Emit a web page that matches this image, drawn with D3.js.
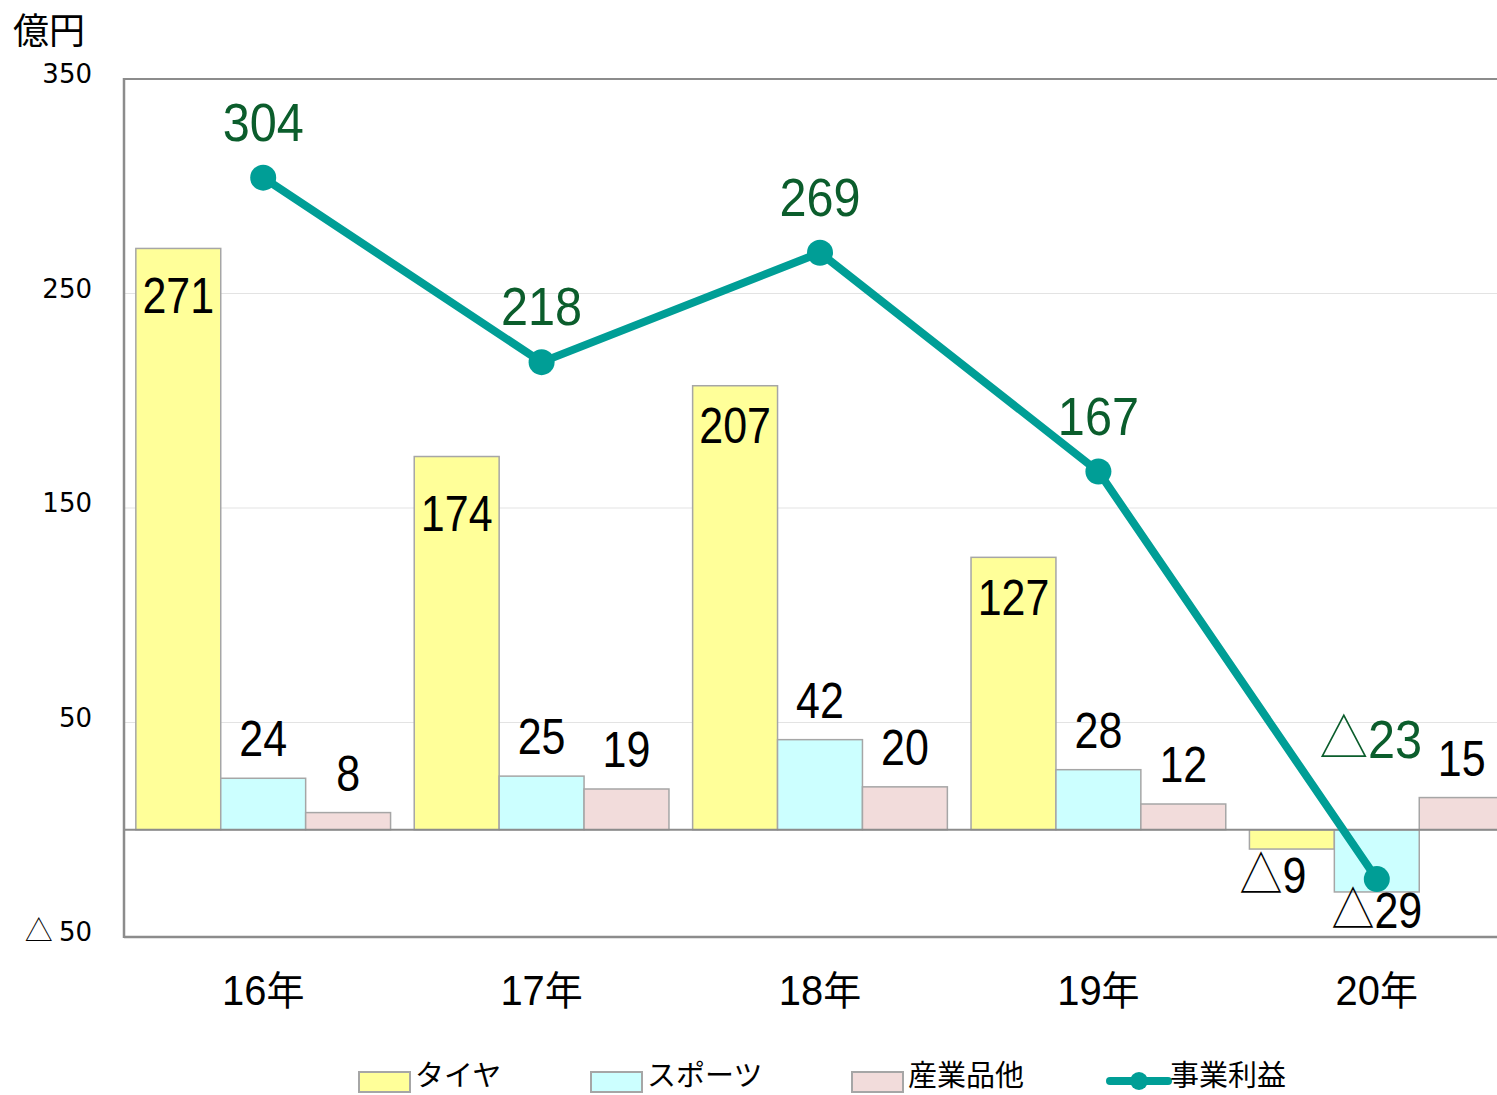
<!DOCTYPE html>
<html><head><meta charset="utf-8">
<script src="https://cdn.jsdelivr.net/npm/d3@7"></script>
<style>body{margin:0;background:#fff}svg{display:block}</style>
</head><body>
<script>
const categories = ["16年","17年","18年","19年","20年"];
const tire = [271,174,207,127,-9];
const sports = [24,25,42,28,-29];
const industrial = [8,19,20,12,15];
const profit = [304,218,269,167,-23];
const yTicks = [350,250,150,50,-50];
const gridTicks = [250,150,50];
const seriesNames = ["タイヤ","スポーツ","産業品他","事業利益"];

(function(){
const W=1497,H=1095;
const svg = d3.select("body").append("svg").attr("width",W).attr("height",H);
const pL=124, pT=79, pB=937, pR=1516;
const y = d3.scaleLinear().domain([-50,350]).range([pB,pT]);
const x = d3.scaleBand().domain(categories).range([pL,pR]).paddingInner(0.085).paddingOuter(0.0425);
const sub = d3.scaleBand().domain(["t","s","i"]).range([0,x.bandwidth()]);
const num = "'Liberation Sans', Arial, sans-serif";
const jp = "'Noto Sans CJK JP', sans-serif";
const tireInnerDy = [65,74,57,58,0];

function label(g, px, py, v, size, sx, color){
  const t = g.append("text")
    .attr("transform",`translate(${px},${py}) scale(${sx},1)`)
    .attr("text-anchor","middle").attr("font-family",num).attr("font-size",size).attr("fill",color);
  if(v<0){
    t.append("tspan").attr("font-family",jp).attr("font-weight",300).text("△");
    t.append("tspan").text(Math.abs(v));
  } else t.text(v);
}

svg.append("g").selectAll("line").data(gridTicks).join("line")
  .attr("x1",pL).attr("x2",W).attr("y1",d=>y(d)).attr("y2",d=>y(d))
  .attr("stroke","#e3e3e3").attr("stroke-width",1);
svg.append("line").attr("x1",pL).attr("x2",W).attr("y1",pT).attr("y2",pT).attr("stroke","#8c8c8c").attr("stroke-width",2);
svg.append("line").attr("x1",pL).attr("x2",W).attr("y1",pB).attr("y2",pB).attr("stroke","#8c8c8c").attr("stroke-width",2.5);

const series = [
  {key:"t",vals:tire,fill:"#FFFF99"},
  {key:"s",vals:sports,fill:"#CCFFFF"},
  {key:"i",vals:industrial,fill:"#F2DCDB"}
];
series.forEach(s=>{
  svg.append("g").selectAll("rect").data(s.vals).join("rect")
    .attr("x",(d,i)=>x(categories[i])+sub(s.key))
    .attr("width",sub.bandwidth())
    .attr("y",d=>y(Math.max(0,d)))
    .attr("height",d=>Math.abs(y(d)-y(0)))
    .attr("fill",s.fill).attr("stroke","#a6a6a6").attr("stroke-width",1.5);
});
svg.append("line").attr("x1",pL).attr("x2",W).attr("y1",y(0)).attr("y2",y(0)).attr("stroke","#8c8c8c").attr("stroke-width",2);
svg.append("line").attr("x1",pL).attr("x2",pL).attr("y1",pT-1).attr("y2",pB+1).attr("stroke","#8c8c8c").attr("stroke-width",2.5);

const lblG = svg.append("g");
series.forEach(s=>{
  s.vals.forEach((d,i)=>{
    let px = x(categories[i])+sub(s.key)+sub.bandwidth()/2;
    let py;
    if(d<0){ py = y(d) + (s.key==="t"?44:36); if(s.key==="t") px -= 19; }
    else if(s.key==="t") py = y(d)+tireInnerDy[i];
    else py = y(d)-22;
    label(lblG, px, py, d, 50, 0.86, "#000");
  });
});

const lx = (d,i)=>x(categories[i])+x.bandwidth()/2;
svg.append("path").datum(profit)
  .attr("d",d3.line().x(lx).y(d=>y(d)))
  .attr("fill","none").attr("stroke","#009E96").attr("stroke-width",8).attr("stroke-linejoin","round");
svg.append("g").selectAll("circle").data(profit).join("circle")
  .attr("cx",lx).attr("cy",d=>y(d)).attr("r",13).attr("fill","#009E96");
const plG = svg.append("g");
profit.forEach((d,i)=>{
  label(plG, lx(d,i)+(d<0?-6:0), d>=0 ? y(d)-37 : y(0)-72, d, 54, 0.9, "#0B5D2C");
});

const yt = svg.append("g").selectAll("text").data(yTicks).join("text")
  .attr("x",92).attr("y",d=>y(d)+4)
  .attr("text-anchor","end").attr("font-family","'DejaVu Sans', Verdana, sans-serif").attr("font-size",26).attr("fill","#000");
yt.filter(d=>d<0).append("tspan").attr("font-family",jp).attr("font-weight",300).attr("font-size",28).text("△ ");
yt.append("tspan").text(d=>Math.abs(d));
svg.append("text").attr("x",13).attr("y",44).attr("font-family",jp).attr("font-size",36).attr("fill","#000").text("億円");

const xl = svg.append("g").selectAll("text").data(categories).join("text")
  .attr("transform",d=>`translate(${x(d)+x.bandwidth()/2},1005) scale(0.95,1)`)
  .attr("text-anchor","middle").attr("font-size",42).attr("fill","#000");
xl.append("tspan").attr("font-family",num).text(d=>d.replace("年",""));
xl.append("tspan").attr("font-family",jp).attr("font-size",40).text("年");

const legX=[359,591,852,1110];
const lg = svg.append("g");
[0,1,2].forEach(i=>{
  lg.append("rect").attr("x",legX[i]).attr("y",1072).attr("width",51).attr("height",20)
    .attr("fill",series[i].fill).attr("stroke","#a6a6a6").attr("stroke-width",2);
  lg.append("text").attr("x",legX[i]+56).attr("y",1086).attr("font-family",jp).attr("font-size",29).attr("fill","#000").text(seriesNames[i]);
});
lg.append("line").attr("x1",legX[3]).attr("x2",legX[3]+58).attr("y1",1081).attr("y2",1081).attr("stroke","#009E96").attr("stroke-width",8).attr("stroke-linecap","round");
lg.append("circle").attr("cx",legX[3]+29).attr("cy",1081).attr("r",9).attr("fill","#009E96");
lg.append("text").attr("x",legX[3]+60).attr("y",1086).attr("font-family",jp).attr("font-size",29).attr("fill","#000").text(seriesNames[3]);
})();
</script>
</body></html>
